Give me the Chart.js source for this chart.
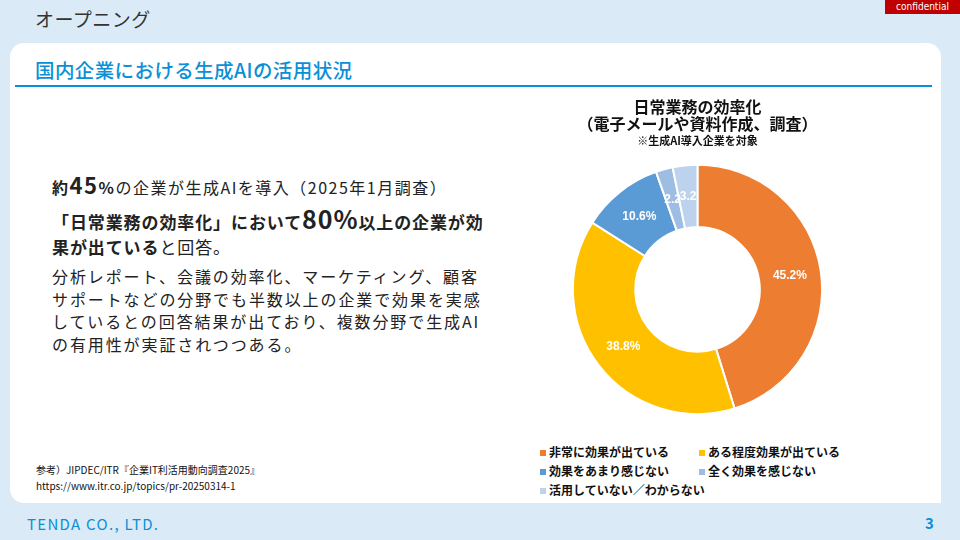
<!DOCTYPE html>
<html lang="ja">
<head>
<meta charset="UTF-8">
<title>国内企業における生成AIの活用状況</title>
<script src="https://cdn.jsdelivr.net/npm/chart.js@4.4.1/dist/chart.umd.min.js"></script>
<style>
  html, body { margin: 0; padding: 0; }
  body {
    width: 960px; height: 540px; overflow: hidden; position: relative;
    background: #daeaf6;
    font-family: "Noto Sans CJK JP", "Noto Sans", sans-serif;
    color: #222;
  }
  #page-title { position: absolute; left: 35px; top: 5px; font-size: 19px; color: #333; letter-spacing: 0.5px; }
  #conf {
    position: absolute; right: 0; top: 0; width: 75px; height: 14px;
    background: #c00000; color: #fff; font-size: 10px; line-height: 14px; text-align: center;
    font-family: "DejaVu Sans Condensed", "DejaVu Sans", sans-serif;
  }
  #panel {
    position: absolute; left: 10px; top: 43px; width: 931px; height: 460px;
    background: #fff; border-radius: 14px 14px 0 14px;
  }
  #sub-title {
    position: absolute; left: 35px; top: 55px; font-size: 19.5px; font-weight: 500; color: #0b8fd6; letter-spacing: 0.4px;
  }
  #rule { position: absolute; left: 15px; top: 85px; width: 917px; height: 2px; background: #0b8fd6; }
  #text { position: absolute; left: 52px; top: 170px; width: 470px; }
  .l1 { font-size: 16px; line-height: 28px; letter-spacing: 1.5px; }
  .l2 { font-size: 17px; font-weight: bold; line-height: 25px; margin-top: 5px; letter-spacing: 0.9px; }
  .big { font-size: 25px; }
  .mid { font-size: 22px; }
  .reg { font-weight: normal; }
  .para { font-size: 16px; line-height: 22.7px; margin-top: 6px; letter-spacing: 1.9px; }
  #src { position: absolute; left: 36px; top: 462px; font-size: 10px; line-height: 16px; color: #111; }
  #wrap { position: absolute; left: 530px; top: 95px; width: 335px; height: 340px; }
  #legend {
    position: absolute; left: 538px; top: 443px; width: 340px;
    display: grid; grid-template-columns: 159px 175px; row-gap: 2px;
    font-size: 12px; font-weight: bold; line-height: 17px; color: #111; white-space: nowrap;
  }
  #legend span.box { display: inline-block; width: 6px; height: 6px; margin: 0 3px 2px 2px; vertical-align: middle; }
  #footer { position: absolute; left: 27px; top: 513px; font-size: 15px; color: #0b8fd6; letter-spacing: 1.3px; }
  #pageno { position: absolute; left: 925px; top: 512px; font-size: 15px; font-weight: bold; color: #0b8fd6; }
</style>
</head>
<body>
<div id="page-title">オープニング</div>
<div id="conf">confidential</div>
<div id="panel"></div>
<div id="sub-title">国内企業における生成AIの活用状況</div>
<div id="rule"></div>

<div id="text">
  <div class="l1"><b>約<span class="mid">45</span>%</b>の企業が生成AIを導入（2025年1月調査）</div>
  <div class="l2">「日常業務の効率化」において<span class="big">80%</span>以上の企業が効<br>果が出ている<span class="reg">と回答。</span></div>
  <div class="para">分析レポート、会議の効率化、マーケティング、顧客<br>サポートなどの分野でも半数以上の企業で効果を実感<br>しているとの回答結果が出ており、複数分野で生成AI<br>の有用性が実証されつつある。</div>
</div>

<div id="src">参考）JIPDEC/ITR『企業IT利活用動向調査2025』<br>https://www.itr.co.jp/topics/pr-20250314-1</div>

<div id="wrap"><canvas id="grafica"></canvas></div>
<div id="legend"></div>

<div id="footer">TENDA CO., LTD.</div>
<div id="pageno">3</div>

<script>
// 回答の区分と割合（%）
const etiquetas = ["非常に効果が出ている", "ある程度効果が出ている", "効果をあまり感じない", "全く効果を感じない", "活用していない／わからない"];
const valores = [45.2, 38.8, 10.6, 2.2, 3.2];
const colores = ["#ed7d31", "#ffc000", "#5b9bd5", "#9dbde3", "#bdd2ec"];

// 値ラベル（小さい扇は%なし）
const etiquetasValor = {
  id: 'etiquetasValor',
  afterDatasetsDraw(chart) {
    const ctx = chart.ctx;
    const meta = chart.getDatasetMeta(0);
    ctx.save();
    ctx.fillStyle = '#fff';
    ctx.font = 'bold 12px "Liberation Sans", Arial, sans-serif';
    ctx.textAlign = 'center';
    ctx.textBaseline = 'middle';
    meta.data.forEach((arc, i) => {
      const p = arc.tooltipPosition();
      const v = valores[i].toFixed(1);
      ctx.fillText(valores[i] < 5 ? v : v + '%', p.x, p.y);
    });
    ctx.restore();
  }
};

const $grafica = document.querySelector('#grafica');
const myChart = new Chart($grafica, {
  type: 'doughnut',
  data: {
    labels: etiquetas,
    datasets: [{
      data: valores,
      backgroundColor: colores,
      borderColor: '#fff',
      borderWidth: 2
    }]
  },
  options: {
    responsive: true,
    maintainAspectRatio: false,
    animation: false,
    cutout: '50%',
    layout: { padding: { top: 0, bottom: 20, left: 0, right: 0 } },
    plugins: {
      legend: { display: false },
      tooltip: { enabled: false },
      title: {
        display: true,
        text: ['日常業務の効率化', '（電子メールや資料作成、調査）'],
        color: '#111',
        font: { size: 16, weight: 'bold', family: '"Noto Sans CJK JP", sans-serif', lineHeight: 1.05 },
        padding: { top: 4, bottom: 2 }
      },
      subtitle: {
        display: true,
        text: '※生成AI導入企業を対象',
        color: '#111',
        font: { size: 11, weight: 'bold', family: '"Noto Sans CJK JP", sans-serif' },
        padding: { top: 0, bottom: 16 }
      }
    }
  },
  plugins: [etiquetasValor]
});

// 凡例（チャートの凡例項目から作成）
const $legend = document.querySelector('#legend');
myChart.options.plugins.legend.labels.generateLabels(myChart).forEach(item => {
  const div = document.createElement('div');
  div.innerHTML = '<span class="box" style="background:' + item.fillStyle + '"></span>' + item.text;
  $legend.appendChild(div);
});
</script>
</body>
</html>
